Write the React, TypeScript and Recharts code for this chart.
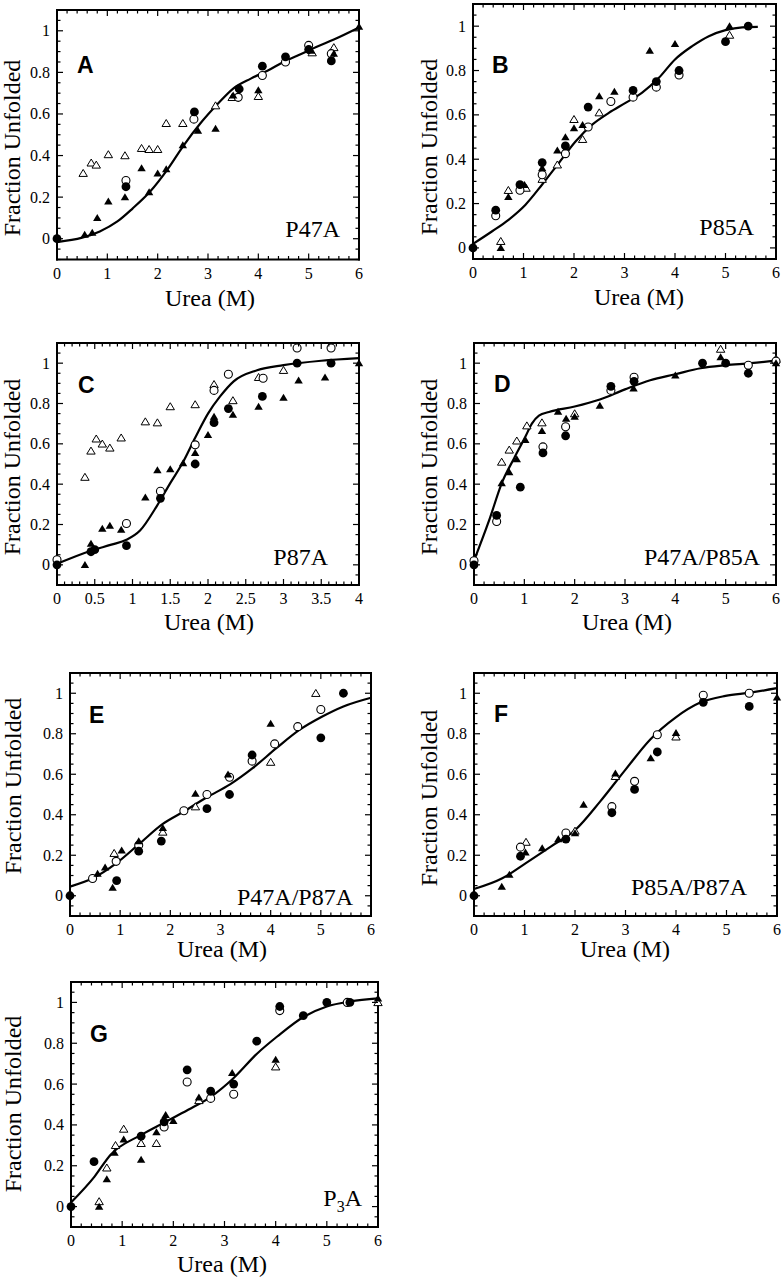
import React from 'react';
import { ComposedChart, Line, Scatter, XAxis, YAxis } from 'recharts';

type Pt = [number, number];

// ---------- Panel A (P47A) ----------
const A_FILLED_CIRCLES: Pt[] = [[0, 0], [1.37, 0.25], [2.73, 0.61], [3.62, 0.72], [4.08, 0.83], [4.54, 0.875], [5.0, 0.91], [5.45, 0.855]];
const A_OPEN_CIRCLES: Pt[] = [[1.37, 0.28], [2.72, 0.575], [3.6, 0.68], [4.08, 0.785], [4.54, 0.85], [5.0, 0.93], [5.45, 0.89]];
const A_FILLED_TRIANGLES: Pt[] = [[0.55, 0.02], [0.7, 0.03], [0.8, 0.1], [1.02, 0.18], [1.35, 0.2], [1.68, 0.34], [1.83, 0.225], [2.0, 0.315], [2.17, 0.335], [2.5, 0.45], [2.8, 0.52], [3.15, 0.53], [3.5, 0.69], [4.0, 0.715], [5.05, 0.905], [5.5, 0.89], [6.0, 1.02]];
const A_OPEN_TRIANGLES: Pt[] = [[0.52, 0.315], [0.68, 0.365], [0.78, 0.355], [1.02, 0.405], [1.35, 0.4], [1.68, 0.435], [1.83, 0.43], [2.0, 0.43], [2.17, 0.555], [2.5, 0.555], [3.15, 0.64], [3.48, 0.68], [4.0, 0.685], [5.07, 0.895], [5.5, 0.92]];
const A_FIT: Pt[] = [[0, -0.016], [0.5, 0.005], [0.85, 0.035], [1.2, 0.083], [1.5, 0.145], [1.85, 0.227], [2.2, 0.335], [2.5, 0.443], [2.85, 0.555], [3.2, 0.65], [3.5, 0.722], [3.85, 0.77], [4.2, 0.81], [4.5, 0.85], [4.85, 0.888], [5.15, 0.922], [5.5, 0.958], [6, 1.016]];

// ---------- Panel B (P85A) ----------
const B_FILLED_CIRCLES: Pt[] = [[0, 0], [0.45, 0.17], [0.93, 0.285], [1.37, 0.385], [1.83, 0.46], [2.28, 0.635], [3.17, 0.71], [3.63, 0.75], [4.08, 0.8], [5.0, 0.93], [5.45, 1.0]];
const B_OPEN_CIRCLES: Pt[] = [[0.45, 0.145], [0.93, 0.26], [1.37, 0.33], [1.83, 0.425], [2.28, 0.545], [2.73, 0.66], [3.17, 0.68], [3.63, 0.725], [4.08, 0.78]];
const B_FILLED_TRIANGLES: Pt[] = [[0.55, 0.0], [0.7, 0.23], [1.02, 0.285], [1.37, 0.36], [1.67, 0.44], [1.83, 0.5], [2.0, 0.54], [2.17, 0.555], [2.5, 0.685], [2.8, 0.705], [3.5, 0.89], [4.0, 0.92], [5.08, 1.0]];
const B_OPEN_TRIANGLES: Pt[] = [[0.55, 0.03], [0.7, 0.26], [1.05, 0.27], [1.37, 0.31], [1.67, 0.375], [1.83, 0.44], [2.0, 0.58], [2.17, 0.49], [2.5, 0.61], [5.08, 0.96]];
const B_FIT: Pt[] = [[0, 0.018], [0.38, 0.075], [0.71, 0.128], [1.04, 0.195], [1.37, 0.286], [1.7, 0.383], [2.03, 0.48], [2.36, 0.556], [2.69, 0.609], [3.02, 0.654], [3.35, 0.7], [3.68, 0.767], [4.0, 0.85], [4.34, 0.91], [4.67, 0.955], [5.0, 0.982], [5.33, 0.995], [5.64, 0.997]];

// ---------- Panel C (P87A) ----------
const C_FILLED_CIRCLES: Pt[] = [[0, 0], [0.45, 0.065], [0.5, 0.075], [0.92, 0.095], [1.37, 0.33], [1.83, 0.5], [2.08, 0.705], [2.27, 0.775], [2.72, 0.835], [3.18, 1.0], [3.63, 1.0]];
const C_OPEN_CIRCLES: Pt[] = [[0, 0.025], [0.92, 0.205], [1.37, 0.365], [1.83, 0.595], [2.08, 0.865], [2.27, 0.945], [2.73, 0.925], [3.18, 1.075], [3.63, 1.075]];
const C_FILLED_TRIANGLES: Pt[] = [[0.37, 0.0], [0.45, 0.105], [0.6, 0.18], [0.7, 0.195], [0.85, 0.175], [1.17, 0.335], [1.33, 0.47], [1.5, 0.475], [1.67, 0.505], [1.83, 0.555], [2.0, 0.645], [2.08, 0.735], [2.33, 0.745], [2.67, 0.785], [3.0, 0.83], [3.2, 0.915], [3.55, 0.93], [4.0, 1.0]];
const C_OPEN_TRIANGLES: Pt[] = [[0.37, 0.435], [0.45, 0.565], [0.52, 0.625], [0.6, 0.6], [0.7, 0.58], [0.85, 0.63], [1.17, 0.71], [1.33, 0.705], [1.5, 0.785], [1.83, 0.795], [2.08, 0.895], [2.33, 0.815], [2.67, 0.93], [3.0, 0.965]];
const C_FIT: Pt[] = [[0, 0.005], [0.45, 0.07], [0.72, 0.1], [0.92, 0.124], [1.1, 0.17], [1.32, 0.29], [1.5, 0.405], [1.67, 0.51], [1.83, 0.63], [2.0, 0.75], [2.16, 0.835], [2.34, 0.91], [2.65, 0.965], [3.0, 0.99], [3.5, 1.012], [4.0, 1.025]];

// ---------- Panel D (P47A/P85A) ----------
const D_FILLED_CIRCLES: Pt[] = [[0, 0], [0.45, 0.245], [0.92, 0.385], [1.37, 0.555], [1.82, 0.64], [2.72, 0.885], [3.18, 0.91], [4.54, 1.0], [5.0, 1.0], [5.45, 0.95]];
const D_OPEN_CIRCLES: Pt[] = [[0, 0.02], [0.45, 0.215], [1.37, 0.585], [1.82, 0.685], [2.72, 0.865], [3.18, 0.93], [5.45, 0.99], [6.0, 1.01]];
const D_FILLED_TRIANGLES: Pt[] = [[0.55, 0.405], [0.7, 0.46], [0.85, 0.525], [1.02, 0.62], [1.35, 0.665], [1.67, 0.76], [1.83, 0.725], [2.0, 0.735], [2.5, 0.79], [3.17, 0.875], [4.0, 0.94], [4.9, 1.03], [6.0, 1.0]];
const D_OPEN_TRIANGLES: Pt[] = [[0.55, 0.51], [0.7, 0.57], [0.85, 0.615], [1.05, 0.69], [1.35, 0.705], [2.0, 0.75], [4.9, 1.07], [6.0, 1.02]];
const D_FIT: Pt[] = [[0, 0.02], [0.3, 0.22], [0.56, 0.41], [0.8, 0.53], [1.02, 0.635], [1.15, 0.7], [1.29, 0.74], [1.49, 0.758], [2.0, 0.785], [2.5, 0.82], [3.0, 0.87], [3.5, 0.915], [4.0, 0.945], [4.5, 0.975], [5.0, 0.99], [5.5, 1.0], [6.0, 1.013]];

// ---------- Panel E (P47A/P87A) ----------
const E_FILLED_CIRCLES: Pt[] = [[0, 0], [0.93, 0.075], [1.37, 0.22], [1.82, 0.27], [2.73, 0.43], [3.18, 0.5], [3.63, 0.695], [5.0, 0.78], [5.45, 1.0]];
const E_OPEN_CIRCLES: Pt[] = [[0.45, 0.085], [0.92, 0.17], [1.37, 0.25], [2.27, 0.42], [2.73, 0.5], [3.18, 0.585], [3.63, 0.665], [4.08, 0.75], [4.54, 0.835], [5.0, 0.92]];
const E_FILLED_TRIANGLES: Pt[] = [[0.55, 0.11], [0.7, 0.14], [0.85, 0.04], [1.03, 0.225], [1.37, 0.27], [1.85, 0.335], [2.5, 0.505], [3.15, 0.6], [4.0, 0.85]];
const E_OPEN_TRIANGLES: Pt[] = [[0.88, 0.21], [1.85, 0.315], [2.5, 0.44], [4.0, 0.66], [4.9, 1.0]];
const E_FIT: Pt[] = [[0, 0.045], [0.45, 0.086], [0.92, 0.16], [1.375, 0.255], [1.85, 0.355], [2.26, 0.415], [2.72, 0.485], [3.19, 0.55], [3.64, 0.63], [4.12, 0.73], [4.58, 0.82], [5.02, 0.884], [5.45, 0.935], [6, 0.978]];

// ---------- Panel F (P85A/P87A) ----------
const F_FILLED_CIRCLES: Pt[] = [[0, 0], [0.92, 0.195], [1.82, 0.28], [2.73, 0.41], [3.18, 0.525], [3.63, 0.71], [4.54, 0.955], [5.45, 0.935]];
const F_OPEN_CIRCLES: Pt[] = [[0.92, 0.24], [1.82, 0.31], [2.73, 0.44], [3.18, 0.565], [3.63, 0.795], [4.54, 0.99], [5.45, 1.0]];
const F_FILLED_TRIANGLES: Pt[] = [[0.55, 0.045], [0.7, 0.105], [1.02, 0.215], [1.35, 0.235], [1.67, 0.28], [2.0, 0.31], [2.17, 0.45], [2.8, 0.605], [3.5, 0.68], [4.0, 0.805], [6.0, 0.98]];
const F_OPEN_TRIANGLES: Pt[] = [[1.03, 0.265], [2.0, 0.32], [2.8, 0.59], [4.0, 0.785]];
const F_FIT: Pt[] = [[0, 0.033], [0.56, 0.086], [1.02, 0.16], [1.52, 0.243], [2.01, 0.326], [2.5, 0.466], [3.0, 0.623], [3.49, 0.772], [3.99, 0.88], [4.48, 0.954], [4.98, 0.987], [5.47, 1.003], [6, 1.025]];

// ---------- Panel G (P3A) ----------
const G_FILLED_CIRCLES: Pt[] = [[0, 0], [0.45, 0.22], [1.37, 0.345], [1.82, 0.415], [2.27, 0.67], [2.73, 0.565], [3.18, 0.6], [3.63, 0.81], [4.08, 0.98], [4.54, 0.935], [5.0, 1.0], [5.45, 1.0]];
const G_OPEN_CIRCLES: Pt[] = [[1.82, 0.39], [2.27, 0.61], [2.73, 0.53], [3.18, 0.55], [4.08, 0.96], [5.4, 1.0]];
const G_FILLED_TRIANGLES: Pt[] = [[0.55, 0.0], [0.7, 0.135], [0.85, 0.265], [1.03, 0.33], [1.37, 0.23], [1.67, 0.365], [1.85, 0.45], [2.0, 0.42], [2.5, 0.535], [3.15, 0.655], [4.0, 0.72], [6.0, 1.02]];
const G_OPEN_TRIANGLES: Pt[] = [[0.55, 0.025], [0.7, 0.19], [0.87, 0.3], [1.03, 0.38], [1.37, 0.31], [1.67, 0.31], [2.5, 0.52], [4.0, 0.685], [6.0, 1.0]];
const G_FIT: Pt[] = [[0, 0.02], [0.46, 0.147], [0.77, 0.253], [1.37, 0.351], [1.81, 0.41], [2.29, 0.474], [2.74, 0.539], [3.18, 0.63], [3.64, 0.75], [4.03, 0.833], [4.55, 0.93], [5.0, 0.98], [5.46, 1.005], [6, 1.02]];

// ---------- Tick labels ----------
const X_MAJOR_6 = [0, 1, 2, 3, 4, 5, 6];
const X_MAJOR_4 = [0, 0.5, 1, 1.5, 2, 2.5, 3, 3.5, 4];
const Y_MAJOR = [0, 0.2, 0.4, 0.6, 0.8, 1];

const X_LABEL = 'Urea (M)';
const Y_LABEL = 'Fraction Unfolded';

const SERIF = '"Liberation Serif", "Times New Roman", Times, serif';
const SANS = '"Liberation Sans", Arial, Helvetica, sans-serif';
const PAD = 36;
const AX = 1; // minimal axis thickness (Recharts skips zero-size axes)

function steps(a: number, b: number, s: number): number[] {
  const n = Math.round((b - a) / s);
  const out: number[] = [];
  for (let i = 0; i <= n; i++) out.push(Math.round((a + i * s) * 1000) / 1000);
  return out;
}
const has = (arr: number[], v: number) => arr.some((t) => Math.abs(t - v) < 1e-6);
const toObj = (pts: Pt[]) => pts.map(([x, y]) => ({ x, y }));

const TICK_W = 1.2;
const MAJ = 6;
const MIN = 3.5;

const makeBottomTick = (majors: number[]) => (p: any) => {
  const v = p.payload.value;
  const major = has(majors, v);
  return (
    <g>
      <line x1={p.x} x2={p.x} y1={p.y} y2={p.y - (major ? MAJ : MIN)} stroke="#000" strokeWidth={TICK_W} />
      {major && (
        <text x={p.x} y={p.y + 19} textAnchor="middle" fontSize={16} fontFamily={SERIF} fill="#000">
          {String(v)}
        </text>
      )}
    </g>
  );
};
const makeTopTick = (majors: number[]) => (p: any) => {
  const major = has(majors, p.payload.value);
  return <line x1={p.x} x2={p.x} y1={p.y} y2={p.y + (major ? MAJ : MIN)} stroke="#000" strokeWidth={TICK_W} />;
};
const leftTick = (p: any) => {
  const v = p.payload.value;
  const major = has(Y_MAJOR, v);
  return (
    <g>
      <line x1={p.x} x2={p.x + (major ? MAJ : MIN)} y1={p.y} y2={p.y} stroke="#000" strokeWidth={TICK_W} />
      {major && (
        <text x={p.x - 7} y={p.y + 5.5} textAnchor="end" fontSize={16} fontFamily={SERIF} fill="#000">
          {String(v)}
        </text>
      )}
    </g>
  );
};
const rightTick = (p: any) => {
  const major = has(Y_MAJOR, p.payload.value);
  return <line x1={p.x} x2={p.x - (major ? MAJ : MIN)} y1={p.y} y2={p.y} stroke="#000" strokeWidth={TICK_W} />;
};

const FilledCircle = (p: any) => <circle cx={p.cx} cy={p.cy} r={4.4} fill="#000" />;
const OpenCircle = (p: any) => <circle cx={p.cx} cy={p.cy} r={4} fill="#fff" stroke="#000" strokeWidth={1.1} />;
const triPts = (cx: number, cy: number) => `${cx},${cy - 3.8} ${cx - 4.2},${cy + 3.2} ${cx + 4.2},${cy + 3.2}`;
const FilledTriangle = (p: any) => <polygon points={triPts(p.cx, p.cy)} fill="#000" />;
const OpenTriangle = (p: any) => (
  <polygon points={triPts(p.cx, p.cy)} fill="#fff" stroke="#000" strokeWidth={1} strokeLinejoin="miter" />
);

interface PanelCfg {
  left: number; top: number; right: number; bottom: number;
  xMax: number; yMin: number;
  fit: Pt[]; fc: Pt[]; oc: Pt[]; ft: Pt[]; ot: Pt[];
}

const AXIS_LINE = { stroke: '#000', strokeWidth: 2, strokeLinecap: 'square' as const };

function Panel({ cfg }: { cfg: PanelCfg }) {
  const w = cfg.right - cfg.left;
  const h = cfg.bottom - cfg.top;
  const xTicks = cfg.xMax === 4 ? steps(0, 4, 0.1) : steps(0, 6, 0.2);
  const xMajors = cfg.xMax === 4 ? X_MAJOR_4 : X_MAJOR_6;
  const yTicks = steps(cfg.yMin, 1.1, 0.05);
  const m = PAD - AX;
  return (
    <div style={{ position: 'absolute', left: cfg.left - PAD, top: cfg.top - PAD }}>
      <ComposedChart width={w + 2 * PAD} height={h + 2 * PAD} margin={{ top: m, right: m, bottom: m, left: m }}>
        <XAxis xAxisId="b" orientation="bottom" type="number" dataKey="x" domain={[0, cfg.xMax]} ticks={xTicks}
          interval={0} height={AX} tickSize={0} tickMargin={0} tickLine={false} axisLine={AXIS_LINE} tick={makeBottomTick(xMajors)} />
        <XAxis xAxisId="t" orientation="top" type="number" dataKey="x" domain={[0, cfg.xMax]} ticks={xTicks} allowDataOverflow
          interval={0} height={AX} tickSize={0} tickMargin={0} tickLine={false} axisLine={AXIS_LINE} tick={makeTopTick(xMajors)} />
        <YAxis yAxisId="l" orientation="left" type="number" dataKey="y" domain={[cfg.yMin, 1.1]} ticks={yTicks}
          interval={0} width={AX} tickSize={0} tickMargin={0} tickLine={false} axisLine={AXIS_LINE} tick={leftTick} />
        <YAxis yAxisId="r" orientation="right" type="number" dataKey="y" domain={[cfg.yMin, 1.1]} ticks={yTicks} allowDataOverflow
          interval={0} width={AX} tickSize={0} tickMargin={0} tickLine={false} axisLine={AXIS_LINE} tick={rightTick} />
        <Line xAxisId="b" yAxisId="l" data={toObj(cfg.fit)} dataKey="y" type="monotone" stroke="#000" strokeWidth={2.2}
          dot={false} activeDot={false} isAnimationActive={false} />
        <Scatter xAxisId="b" yAxisId="l" data={toObj(cfg.ot)} shape={OpenTriangle} isAnimationActive={false} />
        <Scatter xAxisId="b" yAxisId="l" data={toObj(cfg.oc)} shape={OpenCircle} isAnimationActive={false} />
        <Scatter xAxisId="b" yAxisId="l" data={toObj(cfg.ft)} shape={FilledTriangle} isAnimationActive={false} />
        <Scatter xAxisId="b" yAxisId="l" data={toObj(cfg.fc)} shape={FilledCircle} isAnimationActive={false} />
      </ComposedChart>
    </div>
  );
}

const PANELS: (PanelCfg & {
  letter: string; letterPos: [number, number]; name: string; namePos: [number, number];
  xLab: [number, number]; yLab: [number, number];
})[] = [
  { left: 57, top: 9.5, right: 359, bottom: 259, xMax: 6, yMin: -0.1, fit: A_FIT, fc: A_FILLED_CIRCLES, oc: A_OPEN_CIRCLES, ft: A_FILLED_TRIANGLES, ot: A_OPEN_TRIANGLES,
    letter: 'A', letterPos: [77, 73], name: 'P47A', namePos: [340, 237], xLab: [210, 306], yLab: [20, 148] },
  { left: 473, top: 4, right: 776, bottom: 259, xMax: 6, yMin: -0.05, fit: B_FIT, fc: B_FILLED_CIRCLES, oc: B_OPEN_CIRCLES, ft: B_FILLED_TRIANGLES, ot: B_OPEN_TRIANGLES,
    letter: 'B', letterPos: [492, 73], name: 'P85A', namePos: [754, 235], xLab: [639, 305], yLab: [437, 147] },
  { left: 57, top: 343, right: 359, bottom: 585, xMax: 4, yMin: -0.1, fit: C_FIT, fc: C_FILLED_CIRCLES, oc: C_OPEN_CIRCLES, ft: C_FILLED_TRIANGLES, ot: C_OPEN_TRIANGLES,
    letter: 'C', letterPos: [78, 393], name: 'P87A', namePos: [328, 565], xLab: [209, 630], yLab: [20, 467] },
  { left: 474, top: 343, right: 776, bottom: 585, xMax: 6, yMin: -0.1, fit: D_FIT, fc: D_FILLED_CIRCLES, oc: D_OPEN_CIRCLES, ft: D_FILLED_TRIANGLES, ot: D_OPEN_TRIANGLES,
    letter: 'D', letterPos: [494, 392], name: 'P47A/P85A', namePos: [760, 565], xLab: [627, 630], yLab: [437, 467] },
  { left: 70, top: 673, right: 371, bottom: 916, xMax: 6, yMin: -0.1, fit: E_FIT, fc: E_FILLED_CIRCLES, oc: E_OPEN_CIRCLES, ft: E_FILLED_TRIANGLES, ot: E_OPEN_TRIANGLES,
    letter: 'E', letterPos: [89, 723], name: 'P47A/P87A', namePos: [353, 905], xLab: [222, 957], yLab: [21, 786] },
  { left: 474, top: 673, right: 777, bottom: 916, xMax: 6, yMin: -0.1, fit: F_FIT, fc: F_FILLED_CIRCLES, oc: F_OPEN_CIRCLES, ft: F_FILLED_TRIANGLES, ot: F_OPEN_TRIANGLES,
    letter: 'F', letterPos: [494, 722], name: 'P85A/P87A', namePos: [747, 895], xLab: [625, 957], yLab: [437, 798] },
  { left: 71, top: 982, right: 378, bottom: 1227, xMax: 6, yMin: -0.1, fit: G_FIT, fc: G_FILLED_CIRCLES, oc: G_OPEN_CIRCLES, ft: G_FILLED_TRIANGLES, ot: G_OPEN_TRIANGLES,
    letter: 'G', letterPos: [90, 1042], name: 'P3A', namePos: [362, 1206], xLab: [222, 1272], yLab: [21, 1104] },
];

export default function App() {
  return (
    <div style={{ position: 'absolute', left: 0, top: 0, width: 784, height: 1280, background: '#fff', overflow: 'hidden' }}>
      {PANELS.map((p) => (
        <Panel key={p.letter} cfg={p} />
      ))}
      <svg width={784} height={1280} style={{ position: 'absolute', left: 0, top: 0, pointerEvents: 'none' }}>
        {PANELS.map((p) => (
          <g key={p.letter}>
            <text x={p.letterPos[0]} y={p.letterPos[1]} fontFamily={SANS} fontWeight="bold" fontSize={23} fill="#000">
              {p.letter}
            </text>
            {p.name === 'P3A' ? (
              <text x={p.namePos[0]} y={p.namePos[1]} textAnchor="end" fontFamily={SERIF} fontSize={24} fill="#000">
                P<tspan fontSize={16} dy={6}>3</tspan><tspan dy={-6}>A</tspan>
              </text>
            ) : (
              <text x={p.namePos[0]} y={p.namePos[1]} textAnchor="end" fontFamily={SERIF} fontSize={24} fill="#000">
                {p.name}
              </text>
            )}
            <text x={p.xLab[0]} y={p.xLab[1]} textAnchor="middle" fontFamily={SERIF} fontSize={24} fill="#000">
              {X_LABEL}
            </text>
            <text x={p.yLab[0]} y={p.yLab[1]} textAnchor="middle" fontFamily={SERIF} fontSize={24} fill="#000"
              transform={`rotate(-90 ${p.yLab[0]} ${p.yLab[1]})`}>
              {Y_LABEL}
            </text>
          </g>
        ))}
      </svg>
    </div>
  );
}
